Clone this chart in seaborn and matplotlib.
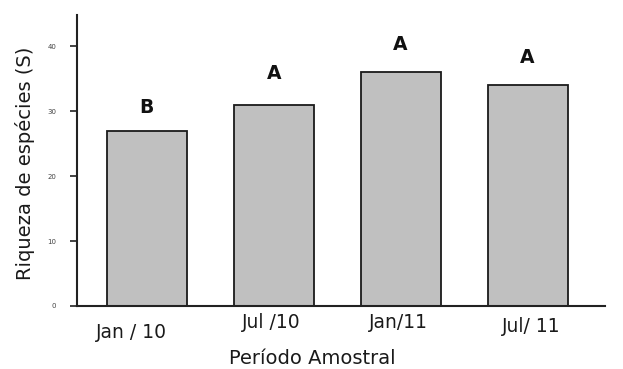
import matplotlib
matplotlib.use("Agg")
import matplotlib.pyplot as plt
import seaborn as sns
import pandas as pd
from matplotlib.transforms import blended_transform_factory, offset_copy

periods = ["Jan / 10", "Jul /10", "Jan/11", "Jul/ 11"]
richness = [27, 31, 36, 34]
letters = ["B", "A", "A", "A"]
letter_offsets = [2.1, 3.3, 2.8, 2.8]
yticks = [0, 10, 20, 30, 40]

sns.set_theme(style="ticks")
plt.rcParams["font.family"] = ["DejaVu Sans"]

df = pd.DataFrame({"periodo": periods, "riqueza": richness})

fig = plt.figure(figsize=(6.23, 3.69), dpi=100)
ax = fig.add_axes([77/623, 1 - 306/369, (605-77)/623, (306-15)/369])

sns.barplot(data=df, x="periodo", y="riqueza", color="#c0c0c0", width=0.63,
            edgecolor="#1a1a1a", linewidth=1.3, saturation=1, ax=ax)

ax.set_xlim(-0.55, 3.61)
ax.set_ylim(0, 44.8)
ax.set_yticks(yticks)
ax.set_yticklabels([str(v) for v in yticks], fontsize=5, color="#444444")
ax.tick_params(axis="y", length=5, width=1.2, color="#222222", pad=10)
ax.tick_params(axis="x", length=0)
ax.set_xticks(range(len(periods)))
ax.set_xticklabels([])

for side in ["top", "right"]:
    ax.spines[side].set_visible(False)
for side in ["left", "bottom"]:
    ax.spines[side].set_linewidth(1.5)
    ax.spines[side].set_color("#222222")

# x tick labels with individual vertical shifts, as in the reference
label_dy = [-27, -17, -17, -20]
label_dx = [-15, -2, -2, 4]
trans = blended_transform_factory(ax.transData, ax.transAxes)
for i, (lab, dy, dx) in enumerate(zip(periods, label_dy, label_dx)):
    t = offset_copy(trans, fig=fig, x=dx, y=dy, units="dots")
    ax.text(i, 0, lab, transform=t, ha="center", va="center",
            fontsize=13.5, color="#1a1a1a")

for i, (v, l, off) in enumerate(zip(richness, letters, letter_offsets)):
    ax.text(i, v + off, l, ha="center", va="bottom", fontsize=13.5,
            fontweight="bold", color="#111111")

ax.set_xlabel("")
ax.set_ylabel("")
fig.text(312/623, 1 - 358/369, "Período Amostral", ha="center", va="center",
         fontsize=14, color="#1a1a1a")
fig.text(25/623, 1 - 163/369, "Riqueza de espécies (S)", ha="center", va="center",
         rotation=90, fontsize=14, color="#1a1a1a")

fig.savefig("out.png", dpi=100)
